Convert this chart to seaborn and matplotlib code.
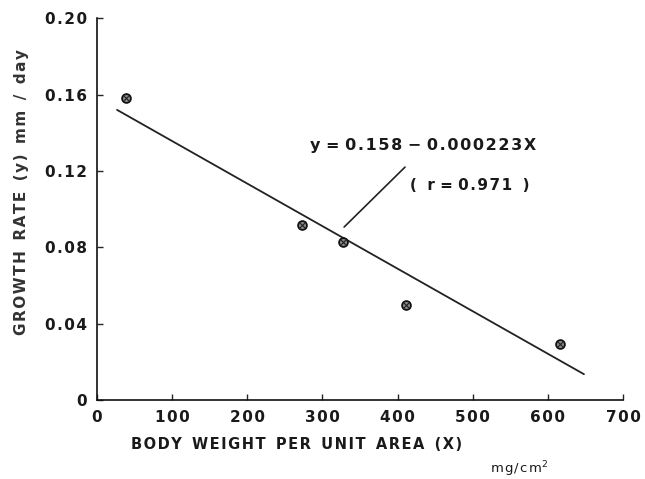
import numpy as np
import pandas as pd
import matplotlib
matplotlib.use("Agg")
import matplotlib.pyplot as plt
import seaborn as sns

# data
body_weight = [39, 273, 327, 411, 616]          # mg/cm^2
growth_rate = [0.158, 0.0915, 0.0827, 0.0497, 0.0293]  # mm/day
fit_range = [27, 648]
intercept = 0.158
slope = -0.000223
x_ticks = [0, 100, 200, 300, 400, 500, 600, 700]
y_ticks = [0, 0.04, 0.08, 0.12, 0.16, 0.20]
y_tick_labels = ["0", "0.04", "0.08", "0.12", "0.16", "0.20"]


def spaced(s, gap="\u200a"):
    # the old lettering is widely spaced; put a hair space between glyphs
    out = ""
    for i, c in enumerate(s):
        out += c
        if i < len(s) - 1 and c != " " and s[i + 1] != " ":
            out += gap
    return out


sns.set_style("ticks")
plt.rcParams["font.family"] = ["DejaVu Sans"]

pts = pd.DataFrame({"x": body_weight, "y": growth_rate})
fit_x = np.array(fit_range)
fit = pd.DataFrame({"x": fit_x, "y": intercept + slope * fit_x})

fig = plt.figure(figsize=(6.45, 4.79), dpi=100)
ax = fig.add_axes([0.150, 0.165, 0.816, 0.797])

sns.lineplot(data=fit, x="x", y="y", ax=ax, color="#222222", linewidth=1.3)
sns.scatterplot(data=pts, x="x", y="y", ax=ax, s=40, color="#8a8a8a",
                edgecolor="#111111", linewidth=1.3, zorder=3)
sns.scatterplot(data=pts, x="x", y="y", ax=ax, s=12, marker="x",
                color="#222222", linewidth=0.8, zorder=4)

ax.set_xlim(0, 700)
ax.set_ylim(0, 0.20)
ax.set_xticks(x_ticks)
ax.set_xticklabels([spaced(str(t)) for t in x_ticks])
ax.set_yticks(y_ticks)
ax.set_yticklabels([spaced(t) for t in y_tick_labels])
ax.tick_params(direction="in", length=4, width=1, labelsize=11, pad=7,
               labelcolor="#1a1a1a")
for lab in ax.get_xticklabels() + ax.get_yticklabels():
    lab.set_fontweight("bold")
sns.despine(ax=ax)
for sp in ["left", "bottom"]:
    ax.spines[sp].set_linewidth(1.2)
    ax.spines[sp].set_color("#111111")

ax.set_xlabel("")
ax.set_ylabel("")
fig.text(0.033, 0.60, spaced("GROWTH  RATE  (y)  mm  /  day"), rotation=90,
         ha="center", va="center", fontsize=11, fontweight="bold", color="#333333")
fig.text(0.460, 0.071, spaced("BODY  WEIGHT  PER  UNIT  AREA  (X)"), ha="center",
         va="center", fontsize=10.5, fontweight="bold", color="#1a1a1a")
fig.text(0.805, 0.020, spaced("mg/cm") + "$^2$", ha="center", va="center",
         fontsize=9.5, color="#1a1a1a")

# equation annotation with leader line
ax.text(284, 0.1335, "y = " + spaced("0.158") + " \u2212 " + spaced("0.000223X"),
        ha="left", va="center", fontsize=11.5, fontweight="bold", color="#1a1a1a")
ax.text(416, 0.1126, "(  r = " + spaced("0.971") + "  )", ha="left", va="center",
        fontsize=11, fontweight="bold", color="#1a1a1a")
ax.plot([410, 329], [0.122, 0.0906], color="#222222", linewidth=1.2)

fig.savefig("out.png", dpi=100)
